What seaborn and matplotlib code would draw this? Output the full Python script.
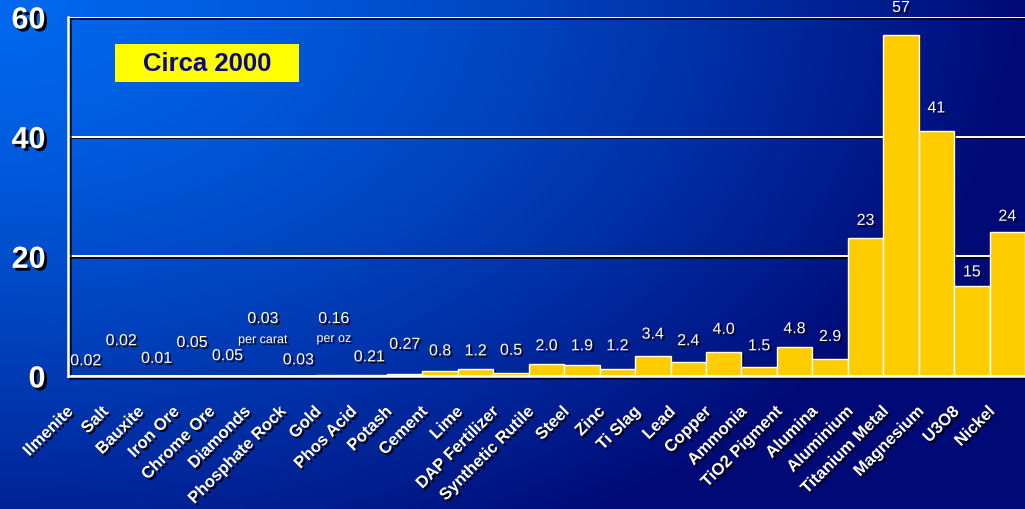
import numpy as np
import pandas as pd
import matplotlib
matplotlib.use("Agg")
import matplotlib.pyplot as plt
import matplotlib.patheffects as pe
from matplotlib.patches import Rectangle
from matplotlib.transforms import ScaledTranslation
from matplotlib import font_manager
import seaborn as sns

# Commodity price relative values, circa 2000
commodities = [
    "Ilmenite", "Salt", "Bauxite", "Iron Ore", "Chrome Ore", "Diamonds",
    "Phosphate Rock", "Gold", "Phos Acid", "Potash", "Cement", "Lime",
    "DAP Fertilizer", "Synthetic Rutile", "Steel", "Zinc", "Ti Slag", "Lead",
    "Copper", "Ammonia", "TiO2 Pigment", "Alumina", "Aluminium",
    "Titanium Metal", "Magnesium", "U3O8", "Nickel",
]
values = [
    0.02, 0.02, 0.01, 0.05, 0.05, 0.03, 0.03, 0.16, 0.21, 0.27, 0.8, 1.2,
    0.5, 2.0, 1.9, 1.2, 3.4, 2.4, 4.0, 1.5, 4.8, 2.9, 23, 57, 41, 15, 24,
]
decimals = [2, 2, 2, 2, 2, 2, 2, 2, 2, 2, 1, 1, 1, 1, 1, 1, 1, 1, 1, 1, 1, 1,
            0, 0, 0, 0, 0]
unit_notes = {"Diamonds": "per carat", "Gold": "per oz"}
y_ticks = [0, 20, 40, 60]
title_text = "Circa 2000"

# Height (data units) at which each value label is centred; small values are staggered
label_y = [2.55, 5.9, 2.95, 5.6, 3.4, 9.6, 2.7, 9.6, 3.2, 5.3, 4.2, 4.2, 4.3,
           5.05, 5.05, 5.05, 7.0, 5.9, 7.8, 5.05, 7.9, 6.6, 26.0, 61.6, 44.8,
           17.4, 26.7]
note_y = {"Diamonds": 6.0, "Gold": 6.2}

df = pd.DataFrame({"commodity": commodities, "value": values})

sns.set_theme(style="white")
plt.rcParams["font.family"] = ["Liberation Sans", "DejaVu Sans"]

available = {f.name for f in font_manager.fontManager.ttflist}
narrow = "Liberation Sans Narrow" if "Liberation Sans Narrow" in available else "Liberation Sans"

W, H = 1025, 510
fig = plt.figure(figsize=(W / 100, H / 100), dpi=100)

# Blue gradient backdrop, brightest at the top-left corner
bg = fig.add_axes([0, 0, 1, 1], zorder=-10)
xs = np.linspace(0, 1, 400)[None, :]
ys = np.linspace(0, 1, 200)[:, None]
t = np.clip(np.sqrt(xs ** 2 + (0.8 * ys) ** 2), 0, 1) ** 1.4
light = np.array([0, 104, 238]) / 255
dark = np.array([0, 10, 118]) / 255
grad = light[None, None, :] * (1 - t[..., None]) + dark[None, None, :] * t[..., None]
bg.imshow(grad, aspect="auto", extent=[0, 1, 0, 1], interpolation="bilinear")
bg.set_axis_off()

ax = fig.add_axes([68 / W, 1 - 377 / H, 957 / W, 359 / H])
ax.patch.set_alpha(0)

shadow_line = [pe.SimpleLineShadow(offset=(1.2, -1.2), shadow_color="#000018", alpha=0.85), pe.Normal()]
shadow_text = [pe.withSimplePatchShadow(offset=(1.4, -1.4), shadow_rgbFace="#000010", alpha=0.95)]

sns.barplot(data=df, x="commodity", y="value", order=commodities,
            color="#FFCC00", saturation=1, width=1.0, edgecolor="white",
            linewidth=1.0, ax=ax, zorder=3)
for p in ax.patches:
    p.set_path_effects([pe.SimplePatchShadow(offset=(1.6, -1.2), shadow_rgbFace="#000018", alpha=0.75), pe.Normal()])

ax.set_xlim(-0.5, len(commodities) - 0.5)
ax.set_ylim(0, 60)
ax.set_xlabel("")
ax.set_ylabel("")

# Horizontal gridlines in white with a dark drop shadow
ax.set_yticks(y_ticks)
ax.grid(True, axis="y", color="white", linewidth=1.4, path_effects=shadow_line)
ax.grid(False, axis="x")
ax.set_axisbelow(True)

for side in ["top", "right"]:
    ax.spines[side].set_visible(False)
for side in ["left", "bottom"]:
    ax.spines[side].set_color("white")
    ax.spines[side].set_linewidth(1.8)
    ax.spines[side].set_path_effects(shadow_line)
    ax.spines[side].set_zorder(4)

# Y axis labels
ax.tick_params(axis="y", length=7.2, width=1.4, color="white", pad=9,
               labelsize=22, labelcolor="white")
for lab in ax.get_yticklabels():
    lab.set_fontweight("bold")
    lab.set_path_effects([pe.withSimplePatchShadow(offset=(2, -2), shadow_rgbFace="black", alpha=1.0)])
for tk in ax.yaxis.get_major_ticks():
    tk.tick1line.set_path_effects(shadow_line)

# Category boundaries carry the tick marks; centres carry the names
ax.set_xticks(np.arange(-0.5, len(commodities), 1.0), minor=True)
ax.tick_params(axis="x", which="minor", length=4.5, width=1.4, color="white", direction="out")
ax.tick_params(axis="x", which="major", length=0, pad=24, labelsize=12, labelcolor="white")
for tk in ax.xaxis.get_minor_ticks():
    tk.tick1line.set_path_effects(shadow_line)
shift = ScaledTranslation(-11 / 72, 0, fig.dpi_scale_trans)
for lab in ax.get_xticklabels():
    lab.set_rotation(45)
    lab.set_rotation_mode("anchor")
    lab.set_ha("right")
    lab.set_va("center")
    lab.set_fontweight("bold")
    lab.set_transform(lab.get_transform() + shift)
    lab.set_path_effects([pe.withSimplePatchShadow(offset=(1.5, -1.5), shadow_rgbFace="black", alpha=1.0)])

# Value labels above the bars
for i, (name, v, d) in enumerate(zip(commodities, values, decimals)):
    ax.text(i, label_y[i], f"{v:.{d}f}", ha="center", va="center",
            color="white", fontsize=11.5, family=narrow,
            path_effects=shadow_text, zorder=6, clip_on=False)
    if name in unit_notes:
        ax.text(i, note_y[name], unit_notes[name], ha="center", va="center",
                color="white", fontsize=9, family=narrow,
                path_effects=shadow_text, zorder=6)

# Year badge
ax.add_patch(Rectangle((47 / 957, 1 - 83 / 359 + 18 / 359), 184 / 957, 38 / 359,
                       transform=ax.transAxes, facecolor="#FFFF00",
                       edgecolor="none", zorder=5))
ax.text((207 - 68) / 957, (377 - 64) / 359, title_text, transform=ax.transAxes,
        ha="center", va="center", fontsize=18.5, fontweight="bold",
        color="#0A0A88", zorder=6)

fig.savefig("out.png", dpi=100)
